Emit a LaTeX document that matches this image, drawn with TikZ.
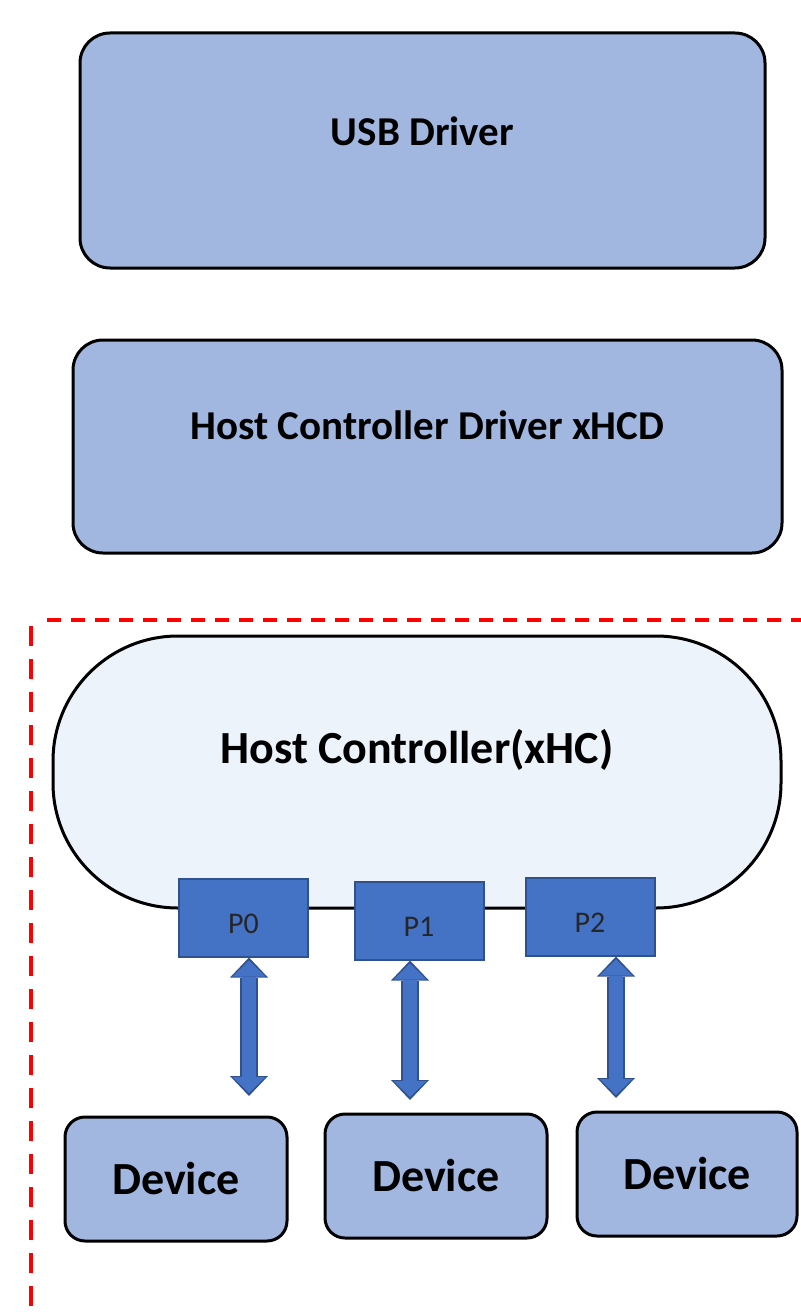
\documentclass[tikz,border=0pt]{standalone}
\usepackage{fontspec}
\setmainfont{Carlito}
\usetikzlibrary{arrows.meta,positioning}
\definecolor{drvblue}{HTML}{A1B7E0}
\definecolor{hcfill}{HTML}{EDF3FA}
\definecolor{portblue}{HTML}{4472C4}
\definecolor{portedge}{HTML}{2F528F}
\definecolor{framered}{HTML}{FF0000}
\tikzset{
  drvbox/.style={draw,line width=3pt,fill=drvblue,rounded corners=30pt,font=\bfseries\fontsize{41}{49}\selectfont},
  hcbox/.style={draw,line width=3pt,fill=hcfill,rounded corners=125pt,font=\bfseries\fontsize{46}{55}\selectfont},
  devbox/.style={draw,line width=3pt,fill=drvblue,rounded corners=20pt,minimum height=124pt,font=\bfseries\fontsize{46}{55}\selectfont},
  portbox/.style={draw=portedge,line width=2pt,fill=portblue,minimum width=129pt,minimum height=78pt,text height=31pt,text depth=0pt,font=\fontsize{30}{36}\selectfont,text=black!85},
  portlink/.style={draw=portblue,line width=14pt,shorten <=3pt,shorten >=3pt,
    {Triangle[width=33pt,length=16pt,line width=0pt]}-{Triangle[width=33pt,length=16pt,line width=0pt]},
    preaction={draw=portedge,line width=18pt,shorten <=0pt,shorten >=0pt,
      arrows={Triangle[width=38pt,length=20pt,line width=0pt]-Triangle[width=38pt,length=20pt,line width=0pt]}}}
}
\begin{document}
\begin{tikzpicture}[x=1pt,y=-1pt]
  \useasboundingbox (0,0) rectangle (800,1316);
  % driver stack
  \node[drvbox,minimum width=685pt,minimum height=235pt,label={[yshift=19pt,font=\bfseries\fontsize{41}{49}\selectfont]center:USB Driver}] (usb) at (422.5,150.5) {};
  \node[drvbox,minimum width=709pt,minimum height=213pt,label={[yshift=21pt,font=\bfseries\fontsize{41}{49}\selectfont]center:Host Controller Driver xHCD}] (hcd) at (427.5,446.5) {};
  % controller region
  \draw[framered,line width=4pt,dash pattern=on 20pt off 13pt] (31,626) -- (31,1320);
  \draw[framered,line width=4pt,dash pattern=on 14pt off 10pt] (47,620) -- (805,620);
  \node[hcbox,minimum width=728pt,minimum height=272pt,label={[yshift=22pt,font=\bfseries\fontsize{46}{55}\selectfont]center:Host Controller(xHC)}] (hc) at (417,772) {};
  \node[portbox] (p0) at (243.5,917.5) {P0};
  \node[portbox] (p1) at (419,920.5) {P1};
  \node[portbox] (p2) at (590,916.5) {P2};
  % devices
  \node[devbox,minimum width=222pt] (d1) at (176,1179) {Device};
  \node[devbox,minimum width=222pt] (d2) at (436,1176) {Device};
  \node[devbox,minimum width=220pt] (d3) at (687,1174) {Device};
  \coordinate (e0) at (249,1096);
  \coordinate (e1) at (410,1100);
  \coordinate (e2) at (616,1098);
  \draw[portlink] ([xshift=5.5pt]p0.south) -- (e0);
  \draw[portlink] ([xshift=-9pt]p1.south) -- (e1);
  \draw[portlink] ([xshift=26pt]p2.south) -- (e2);
\end{tikzpicture}
\end{document}
